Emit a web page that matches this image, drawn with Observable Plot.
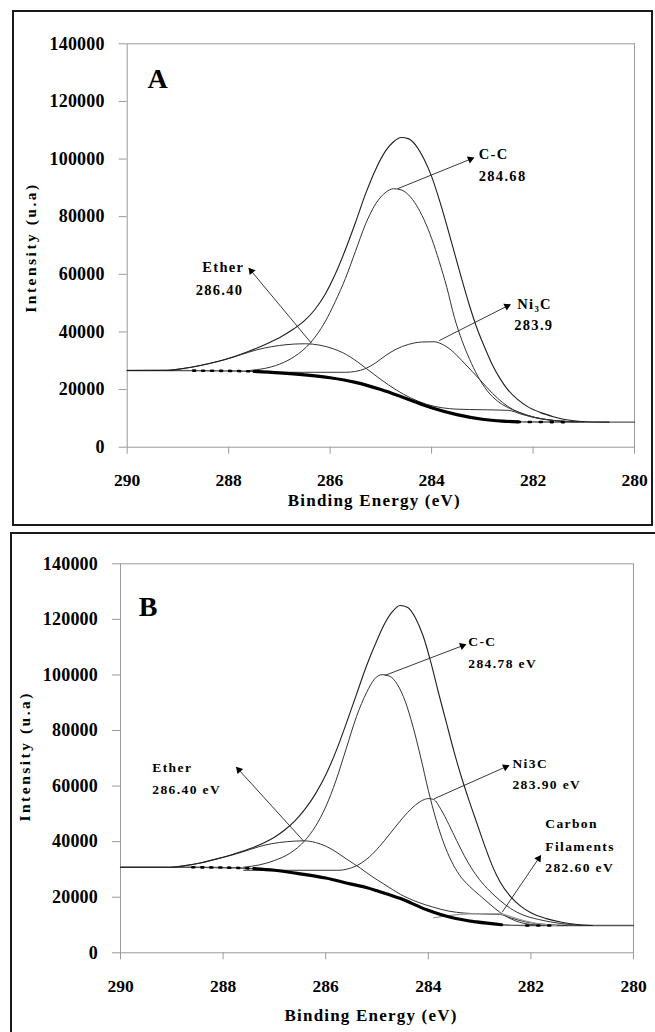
<!DOCTYPE html>
<html><head><meta charset="utf-8">
<script src="https://cdn.jsdelivr.net/npm/d3@7"></script>
<script src="https://cdn.jsdelivr.net/npm/@observablehq/plot@0.6"></script>
<style>
html,body{margin:0;padding:0;background:#fff;}
#wrap{position:relative;width:655px;height:1032px;overflow:hidden;}
.box{position:absolute;border:2px solid #1a1a1a;box-sizing:border-box;pointer-events:none;}
.panel{position:absolute;left:0;}
</style></head><body>
<div id="wrap">
  <div id="pa" class="panel" style="top:0px"></div>
  <div id="pb" class="panel" style="top:520px"></div>
  <div class="box" style="left:12px;top:10px;width:641px;height:516px"></div>
  <div class="box" style="left:10px;top:532px;width:660px;height:530px"></div>
</div>
<script>
const FONT = "'Liberation Serif','Times New Roman',Times,serif";
const xTicks = [290, 288, 286, 284, 282, 280];
const yTicks = [0, 20000, 40000, 60000, 80000, 100000, 120000, 140000];
const xTitle = "Binding Energy (eV)";
const yTitle = "Intensity (u.a)";

// ---------- Panel A ----------
const bgA = [[290,26600],[289.5,26600],[289,26600],[288.7,26580],[288.3,26520],[287.9,26450],[287.5,26300],[287,25800],[286.5,25100],[286,24100],[285.5,22500],[285,20000],[284.5,16900],[284,13700],[283.5,11300],[283,9700],[282.6,9050],[282.3,8800],[281.8,8720],[281.3,8700],[280.5,8700],[280,8700]];
const envA = [[290,26600],[289.2,26650],[288.9,27300],[288.56,28350],[288.2,29800],[287.9,31400],[287.6,33300],[287.3,35500],[287,38000],[286.72,41000],[286.5,44000],[286.3,47800],[286.1,53000],[285.9,60000],[285.7,68500],[285.5,78000],[285.3,88000],[285.1,96500],[284.9,103000],[284.75,106000],[284.6,107500],[284.45,107000],[284.3,104500],[284.15,100000],[284,94000],[283.85,86000],[283.7,77000],[283.55,67500],[283.4,58000],[283.25,49000],[283.1,41000],[282.95,34500],[282.8,28500],[282.65,23800],[282.5,20000],[282.3,16500],[282.1,14000],[281.85,12000],[281.6,10600],[281.4,9700],[281.1,9000],[280.8,8750],[280.5,8700]];
const ccA = [[287.6,26600],[287.3,27300],[287,28800],[286.7,31500],[286.4,36000],[286.1,43500],[285.9,50500],[285.7,58500],[285.5,68000],[285.3,77500],[285.1,84500],[284.9,88500],[284.75,89700],[284.6,89300],[284.45,87500],[284.3,84000],[284.15,79000],[284,72500],[283.85,64500],[283.7,55500],[283.55,45000],[283.4,37000],[283.25,30500],[283.1,25000],[282.9,19500],[282.7,16000],[282.5,13800],[282.3,12300],[282,10500],[281.6,9300],[281.2,8800]];
const etherA = [[289.2,26650],[288.9,27300],[288.56,28350],[288.2,29800],[287.9,31300],[287.6,33000],[287.3,34400],[287,35300],[286.7,35800],[286.5,35900],[286.2,35400],[285.93,34100],[285.75,32800],[285.6,31300],[285.3,27500],[285,23500],[284.7,19900],[284.4,17000],[284.1,14900],[283.8,13700],[283.5,13200],[283,13000],[282.5,12800],[282.2,11300],[281.9,10000],[281.5,9100],[281.1,8750]];
const ni3cA = [[287.5,26000],[286.5,26000],[285.7,26000],[285.5,26300],[285.3,27300],[285.1,29300],[284.9,31900],[284.7,34000],[284.45,35700],[284.2,36500],[283.95,36600],[283.8,35800],[283.6,33500],[283.4,30000],[283.2,26300],[283,22500],[282.8,18700],[282.6,15500],[282.4,13100],[282.1,11000],[281.8,9800],[281.4,9000],[281,8750]];
const arrowsA = [
  {x1:284.67, y1:89700, x2:283.17, y2:100400},
  {x1:286.37, y1:36100, x2:287.6,  y2:62100},
  {x1:283.85, y1:37000, x2:282.45, y2:49500}
];
const notesA = [
  {x:283.07, y:101800, text:"C-C"},
  {x:283.07, y:93900,  text:"284.68"},
  {x:288.52, y:62460,  text:"Ether"},
  {x:288.65, y:54600,  text:"286.40"},
  {x:282.31, y:49500,  text:"Ni\u2083C"},
  {x:282.37, y:42200,  text:"283.9"}
];
const letterA = [{x:289.4, y:127600, text:"A"}];

// ---------- Panel B ----------
const bgB = [[290,30800],[289.3,30800],[288.6,30780],[288.2,30720],[287.8,30600],[287.4,30300],[287,29700],[286.49,28400],[286,26900],[285.5,24700],[285.19,23400],[285,22300],[284.54,19500],[284.03,15500],[283.55,12700],[283.06,11100],[282.57,10100],[282.09,9800],[281.5,9800],[281,9800],[280,9800]];
const envB = [[290,30800],[289,30800],[288.77,31300],[288.45,32300],[288.12,33800],[287.8,35500],[287.47,37500],[287.2,39600],[287,41600],[286.8,44200],[286.6,47500],[286.4,51800],[286.2,57200],[286,64000],[285.8,72500],[285.6,82500],[285.4,93000],[285.2,103500],[285,112500],[284.85,118500],[284.7,122800],[284.55,125000],[284.4,124300],[284.25,120500],[284.1,114000],[283.95,104500],[283.8,93500],[283.65,83000],[283.5,72500],[283.35,63000],[283.2,54500],[283.05,46500],[282.9,38500],[282.75,31200],[282.6,25500],[282.4,20300],[282.2,16800],[282,14400],[281.7,12300],[281.4,11000],[281.1,10200],[280.8,9800]];
const ccB = [[287.6,30800],[287.3,31600],[287,33200],[286.7,35800],[286.4,40500],[286.2,45500],[286,52500],[285.8,62000],[285.6,73500],[285.4,85000],[285.2,93800],[285.05,98500],[284.9,100100],[284.75,99500],[284.6,96500],[284.45,90500],[284.3,81500],[284.15,70500],[284,58500],[283.85,48000],[283.7,39500],[283.55,33000],[283.4,28200],[283.2,24000],[283,20700],[282.8,17500],[282.6,14500],[282.3,11500],[282,10200],[281.6,9800]];
const etherB = [[289,30800],[288.77,31300],[288.45,32300],[288.12,33800],[287.8,35300],[287.47,37200],[287.2,38700],[286.9,39700],[286.6,40200],[286.43,40300],[286.2,39700],[285.99,38300],[285.84,36800],[285.6,33800],[285.32,30400],[285.1,27500],[284.87,24800],[284.54,21000],[284.2,18200],[283.9,16400],[283.6,15000],[283.3,14300],[283,14000],[282.6,13800],[282.4,12600],[282.1,11100],[281.7,10200],[281.3,9800]];
const ni3cB = [[287.6,29700],[286.6,29700],[285.75,29700],[285.55,30300],[285.35,31800],[285.15,34500],[284.95,38300],[284.75,42800],[284.55,47400],[284.35,51500],[284.15,54500],[284,55500],[283.9,55200],[283.75,51500],[283.6,46200],[283.45,40500],[283.3,35000],[283.15,30200],[283,26300],[282.8,22200],[282.6,18800],[282.4,16000],[282.15,13600],[281.85,12000],[281.55,10900],[281.25,10200],[281,9800]];
const cfB = [[283.9,12600],[283.6,13400],[283.2,14000],[282.9,14100],[282.6,14000],[282.35,12800],[282.1,11400],[281.8,10300],[281.5,9800]];
const arrowsB = [
  {x1:284.85, y1:99800, x2:283.27, y2:110960},
  {x1:283.89, y1:55400, x2:282.43, y2:67400},
  {x1:282.56, y1:14600, x2:281.81, y2:35000},
  {x1:286.43, y1:40200, x2:287.74, y2:66800}
];
const notesB = [
  {x:283.22, y:111800, text:"C-C"},
  {x:283.22, y:104200, text:"284.78 eV"},
  {x:282.36, y:68000,  text:"Ni3C"},
  {x:282.36, y:60500,  text:"283.90 eV"},
  {x:281.72, y:46400,  text:"Carbon"},
  {x:281.72, y:38300,  text:"Filaments"},
  {x:281.72, y:30600,  text:"282.60 eV"},
  {x:289.38, y:66800,  text:"Ether"},
  {x:289.38, y:58700,  text:"286.40 eV"}
];
const letterB = [{x:289.46, y:124400, text:"B"}];

const SPACING = {"18":"0.2px","17.5":"0px","17":"1.2px","15.5":"2.5px","14.5":"1.3px","13.5":"1.4px","28":"0px"};

function makePanel(cfg) {
  const {W, H, ml, mr, mt, mb} = cfg;
  const pxX = (W - ml - mr) / 10, pxY = (H - mt - mb) / 140000;
  const heads = cfg.arrows.map(a => {
    const dxp = -(a.x2 - a.x1) * pxX, dyp = -(a.y2 - a.y1) * pxY;
    const L = Math.hypot(dxp, dyp), ux = dxp / L, uy = dyp / L, back = 3.6;
    return {x: a.x2 + ux * back / pxX, y: a.y2 + uy * back / pxY, rot: Math.atan2(ux, -uy) * 180 / Math.PI};
  });
  const L = (data, o = {}) => Plot.line(data, {x: d => d[0], y: d => d[1], curve: "monotone-x", stroke: "#333", strokeWidth: 1, ...o});
  const bg = cfg.bg;
  const svg = Plot.plot({
    width: W, height: H, marginLeft: ml, marginRight: mr, marginTop: mt, marginBottom: mb,
    style: {background: "transparent", fontFamily: FONT, fontWeight: "bold", color: "#000", overflow: "visible"},
    x: {domain: [290, 280]},
    y: {domain: [0, 140000]},
    marks: [
      Plot.frame({stroke: "#9a9a9a", strokeWidth: 1}),
      Plot.axisY(yTicks, {tickSize: 8, tickPadding: 14.5, stroke: "#9a9a9a", fill: "#000", fontSize: 18, tickFormat: d => String(d), label: null}),
      Plot.axisX(xTicks, {tickSize: 7, tickPadding: 19.5, stroke: "#9a9a9a", fill: "#000", fontSize: 17.5, tickFormat: d => String(d), label: null}),
      Plot.text([xTitle], {frameAnchor: "bottom", lineAnchor: "middle", textAnchor: "middle", dx: cfg.tdx, dy: cfg.tdy, fontSize: 17, fill: "#000"}),
      Plot.text([yTitle], {frameAnchor: "left", lineAnchor: "middle", textAnchor: "middle", rotate: -90, dx: cfg.ydx, dy: cfg.ydy, fontSize: 15.5, fill: "#000"}),
      L(bg, {stroke: "#555", strokeWidth: 1.4}),
      ...cfg.comps.map(c => L(c)),
      ...(cfg.gray || []).map(c => L(c, {stroke: "#9a9a9a", strokeWidth: 1.2})),
      L(cfg.env, {stroke: "#1e1e1e", strokeWidth: 1.1}),
      L(bg.filter(d => d[0] <= 288.8 && d[0] >= 287.4), {stroke: "#000", strokeWidth: 2.6, strokeDasharray: "2,7"}),
      L(bg.filter(d => d[0] <= 287.5 && d[0] >= 282.3), {stroke: "#000", strokeWidth: 3.2}),
      L(bg.filter(d => d[0] <= 282.3 && d[0] >= 281.3), {stroke: "#000", strokeWidth: 2.6, strokeDasharray: "2,9"}),
      Plot.link(cfg.arrows, {x1: "x1", y1: "y1", x2: "x2", y2: "y2", stroke: "#222", strokeWidth: 0.9}),
      Plot.dot(heads, {x: "x", y: "y", rotate: "rot", symbol: "triangle", r: 2.8, fill: "#000", stroke: "none"}),
      Plot.text(cfg.notes, {x: "x", y: "y", text: "text", textAnchor: "start", fontSize: cfg.noteSize, fill: "#000"}),
      Plot.text(cfg.letter, {x: "x", y: "y", text: "text", fontSize: 28, fill: "#000"})
    ]
  });
  d3.select(svg).selectAll("g[font-size]").each(function() {
    const s = SPACING[this.getAttribute("font-size")];
    if (s) this.style.letterSpacing = s;
  });
  return svg;
}

document.getElementById("pa").append(makePanel({
  W: 655, H: 525, ml: 126.7, mr: 21, mt: 43.3, mb: 78.3,
  tdx: -6.6, tdy: 53.3, ydx: -95.7, ydy: 2,
  bg: bgA, env: envA, comps: [ccA, etherA, ni3cA], gray: [],
  arrows: arrowsA, notes: notesA, letter: letterA, noteSize: 14.5
}));
document.getElementById("pb").append(makePanel({
  W: 655, H: 512, ml: 120, mr: 22, mt: 43.3, mb: 79.7,
  tdx: -6, tdy: 62.7, ydx: -95, ydy: -2,
  bg: bgB, env: envB, comps: [ccB, etherB, ni3cB], gray: [cfB],
  arrows: arrowsB, notes: notesB, letter: letterB, noteSize: 13.5
}));
</script>
</body></html>
